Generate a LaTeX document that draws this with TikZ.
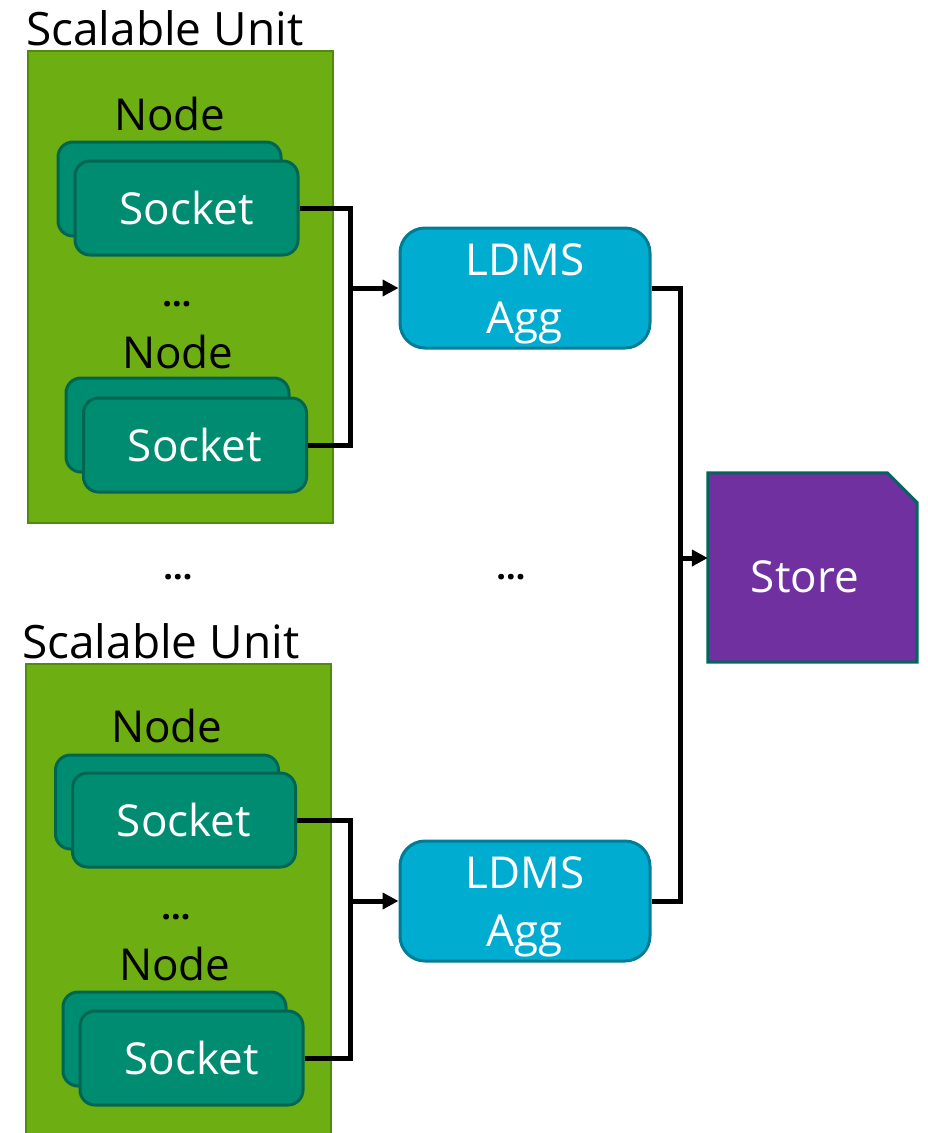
\documentclass[tikz,border=0pt]{standalone}
\usepackage{fontspec}
\setmainfont{Open Sans}
\usetikzlibrary{arrows.meta}
\definecolor{sugreen}{HTML}{6DAF12}
\definecolor{sugreenline}{HTML}{4F8B0C}
\definecolor{sockfill}{HTML}{008C70}
\definecolor{sockline}{HTML}{006652}
\definecolor{aggfill}{HTML}{00ADD0}
\definecolor{aggline}{HTML}{007D96}
\definecolor{storefill}{HTML}{7030A0}
\definecolor{storeline}{HTML}{00685A}
\tikzset{
  big/.style={font=\fontsize{44}{58}\selectfont},
  unitbox/.style={draw=sugreenline, fill=sugreen, line width=2pt, minimum width=305pt, minimum height=472pt, inner sep=0pt},
  sockbox/.style={draw=sockline, fill=sockfill, line width=3pt, rounded corners=15pt, minimum width=223pt, minimum height=94pt, inner sep=0pt, big, text=white},
  aggbox/.style={draw=aggline, fill=aggfill, line width=3pt, rounded corners=25pt, minimum width=250pt, minimum height=120pt, inner sep=0pt},
  storearea/.style={minimum width=209pt, minimum height=189pt, inner sep=0pt},
  storeshape/.style={draw=storeline, fill=storefill, line width=3pt, line join=miter},
  whitetext/.style={big, text=white, align=center, inner sep=0pt},
  label/.style={big, anchor=base west, inner sep=0pt},
  unitlabel/.style={label, font=\fontsize{46}{58}\selectfont},
  dots/.style={font=\fontsize{34}{40}\selectfont\bfseries, anchor=base, inner sep=0pt},
  conn/.style={line width=5pt, line join=miter},
  arr/.style={conn, -{Triangle[length=16pt,width=16pt]}}
}
\begin{document}
\begin{tikzpicture}[x=1pt,y=-1pt]
\useasboundingbox (0,0) rectangle (928,1133);

% scalable unit 1
\node[unitbox] (su1) at (180.5,287) {};
\node[unitlabel] (su1l) at (26,45) {Scalable Unit};
\node[label] (n1l) at (114,130) {Node};
\node[sockbox] (s1b) at (169.5,189) {};
\node[sockbox] (s1) at (186.5,208) {Socket};
\node[dots] (d1) at (177,306) {…};
\node[label] (n2l) at (122,368) {Node};
\node[sockbox] (s2b) at (177.5,425) {};
\node[sockbox] (s2) at (195,445) {Socket};

% scalable unit 2
\node[unitbox, minimum height=476pt] (su2) at (178,902) {};
\node[unitlabel] (su2l) at (22,658) {Scalable Unit};
\node[label] (n3l) at (111,742) {Node};
\node[sockbox] (s3b) at (167,802) {};
\node[sockbox] (s3) at (184,820) {Socket};
\node[dots] (d2) at (176,919) {…};
\node[label] (n4l) at (119,980) {Node};
\node[sockbox] (s4b) at (174.5,1039) {};
\node[sockbox] (s4) at (191.5,1058) {Socket};

\node[dots] (d3) at (178,579) {…};
\node[dots] (d4) at (511,579) {…};

% aggregators
\node[aggbox] (a1) at (525,288) {};
\node[whitetext] (a1t) at (525,294) {LDMS\\Agg};
\node[aggbox] (a2) at (525,901) {};
\node[whitetext] (a2t) at (525,907) {LDMS\\Agg};

% store: box with a cut top-right corner
\node[storearea] (st) at (812.5,567.5) {};
\path[storeshape] (st.south west) -- (st.north west) -- ([xshift=-30pt]st.north east)
  -- ([yshift=-30pt]st.north east) -- (st.south east) -- cycle;
\node[whitetext] (stt) at (805,577) {Store};

% connectors
\coordinate (j1) at (350,288);
\coordinate (j2) at (350,901);
\coordinate (j3) at (680,558);
\draw[conn] (s1.east) -| (j1);
\draw[conn] (s2.east) -| (j1);
\draw[arr] (j1) -- (a1.west);
\draw[conn] (s3.east) -| (j2);
\draw[conn] (s4.east) -| (j2);
\draw[arr] (j2) -- (a2.west);
\draw[conn] (a1.east) -| (j3);
\draw[conn] (a2.east) -| (j3);
\draw[arr] (j3) -- (j3 -| st.west);
\end{tikzpicture}
\end{document}
